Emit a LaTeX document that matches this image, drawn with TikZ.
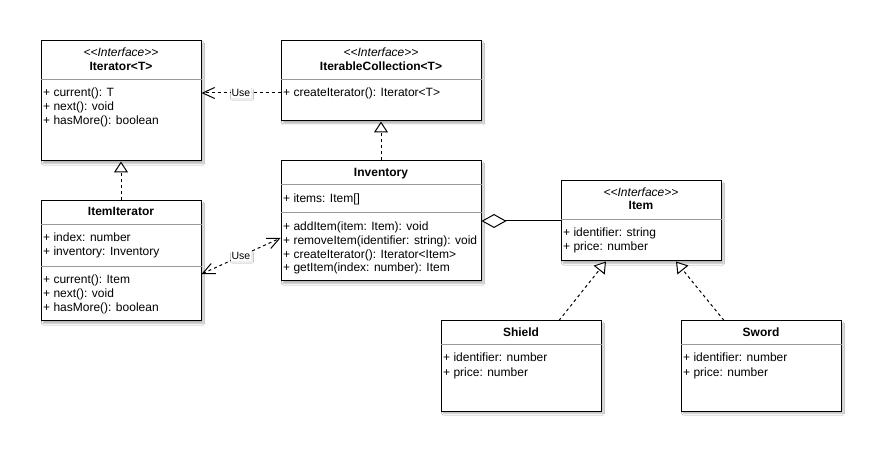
\documentclass[tikz,border=0pt]{standalone}
\usepackage{fontspec}
\setmainfont{Liberation Sans}
\usetikzlibrary{arrows.meta,shadows.blur}

% <<...>> without the guillemet ligature
\newcommand\umlstereo[1]{<\kern0pt<#1>\kern0pt>}

% member rows: #1 name prefix, #2 box, #3 first baseline below box top, #4 line step, #5 rows
\newcommand\umlrows[5]{%
  \foreach \txt [count=\k] in {#5} {%
    \node[row] (#1\k) at ([xshift=2.5pt, yshift={-(#3+#4*(\k-1))}]#2.north west) {\txt};
  }%
}
% compartment divider #2 points below the top of box #1
\newcommand\umlsep[2]{%
  \draw[divider] ([yshift=-#2pt]#1.north west) -- ([yshift=-#2pt]#1.north east);%
}

\tikzset{
  softshadow/.style={blur shadow={shadow xshift=2pt, shadow yshift=-2.5pt,
      shadow opacity=28, shadow blur radius=1.5pt, shadow blur steps=4}},
  classbox/.style={draw=black, line width=1pt, fill=white, anchor=north west,
    inner sep=0pt, softshadow},
  divider/.style={draw=black!40, line width=0.8pt},
  row/.style={anchor=base west, inner sep=0pt, font=\fontsize{12}{14}\selectfont},
  classname/.style={anchor=base, inner sep=0pt, font=\fontsize{12}{14}\selectfont\bfseries},
  stereo/.style={anchor=base, inner sep=0pt, font=\fontsize{12}{14}\selectfont\itshape},
  dep/.style={line width=1pt, dash pattern=on 3pt off 3pt},
  use/.style={dep, -{Straight Barb[length=12pt,width=11pt]}},
  usetwo/.style={dep, {Straight Barb[length=12pt,width=11pt]}-{Straight Barb[length=12pt,width=11pt]}},
  realize/.style={dep, -{Triangle[length=11pt,width=14pt,fill=white]}},
  agg/.style={line width=1pt, {Diamond[length=25pt,width=14pt,fill=white]}-},
  lbl/.style={fill=white, inner sep=1pt, font=\fontsize{10.5}{12}\selectfont,
    blur shadow={shadow xshift=1pt, shadow yshift=-1.5pt, shadow opacity=10,
      shadow blur radius=1pt, shadow blur steps=3}},
}

\begin{document}
\begin{tikzpicture}[x=1pt,y=-1pt]
\useasboundingbox[fill=white] (0,0) rectangle (887,457);

% ---- Iterator<T>
\node[classbox, minimum width=160pt, minimum height=120pt] (iter) at (40.5,40.5) {};
\node[stereo] (iter-st) at ([yshift=-16pt]iter.north) {\umlstereo{Interface}};
\node[classname] (iter-nm) at ([yshift=-30pt]iter.north) {Iterator<T>};
\umlsep{iter}{39}
\umlrows{iter-m}{iter}{56.5}{14}{{+ current(): T},{+ next(): void},{+ hasMore(): boolean}}

% ---- IterableCollection<T>
\node[classbox, minimum width=200pt, minimum height=80pt] (coll) at (280.5,40.5) {};
\node[stereo] (coll-st) at ([yshift=-16pt]coll.north) {\umlstereo{Interface}};
\node[classname] (coll-nm) at ([yshift=-30pt]coll.north) {IterableCollection<T>};
\umlsep{coll}{39}
\umlrows{coll-m}{coll}{56.5}{14}{{+ createIterator(): Iterator<T>}}

% ---- Inventory
\node[classbox, minimum width=200pt, minimum height=120pt] (inv) at (280.5,160.5) {};
\node[classname] (inv-nm) at ([yshift=-16.5pt]inv.north) {Inventory};
\umlsep{inv}{24}
\umlrows{inv-a}{inv}{42}{14}{{+ items: Item[]}}
\umlsep{inv}{52}
\umlrows{inv-m}{inv}{70}{13.8}{{+ addItem(item: Item): void},{+ removeItem(identifier: string): void},{+ createIterator(): Iterator<Item>},{+ getItem(index: number): Item}}

% ---- ItemIterator
\node[classbox, minimum width=160pt, minimum height=120pt] (itit) at (40.5,200.5) {};
\node[classname] (itit-nm) at ([yshift=-15.5pt]itit.north) {ItemIterator};
\umlsep{itit}{24}
\umlrows{itit-a}{itit}{41}{14}{{+ index: number},{+ inventory: Inventory}}
\umlsep{itit}{66}
\umlrows{itit-m}{itit}{83}{14}{{+ current(): Item},{+ next(): void},{+ hasMore(): boolean}}

% ---- Item
\node[classbox, minimum width=160pt, minimum height=80pt] (item) at (560.5,180.5) {};
\node[stereo] (item-st) at ([yshift=-16pt]item.north) {\umlstereo{Interface}};
\node[classname] (item-nm) at ([yshift=-29.5pt]item.north) {Item};
\umlsep{item}{39}
\umlrows{item-a}{item}{56}{14}{{+ identifier: string},{+ price: number}}

% ---- Shield
\node[classbox, minimum width=160pt, minimum height=90pt] (shield) at (440.5,320.5) {};
\node[classname] (shield-nm) at ([yshift=-16pt]shield.north) {Shield};
\umlsep{shield}{24}
\umlrows{shield-a}{shield}{41.5}{14}{{+ identifier: number},{+ price: number}}

% ---- Sword
\node[classbox, minimum width=160pt, minimum height=90pt] (sword) at (680.5,320.5) {};
\node[classname] (sword-nm) at ([yshift=-16pt]sword.north) {Sword};
\umlsep{sword}{24}
\umlrows{sword-a}{sword}{41.5}{14}{{+ identifier: number},{+ price: number}}

% ---- relations
\draw[use] ([yshift=-12pt]coll.west) coordinate (u1) -- (u1 -| iter.east)
  node[lbl, pos=.5] (use1) {Use};
\draw[usetwo] ([yshift=-13pt]itit.east) -- ([yshift=-17pt]inv.west)
  node[lbl, pos=.5] (use2) {Use};
\draw[realize] (itit.north) -- (iter.south);
\draw[realize] (inv.north) -- (coll.south);
\draw[agg] (inv.east) -- (item.west);
\draw[realize] ([xshift=38pt]shield.north) -- ([xshift=-35pt]item.south);
\draw[realize] ([xshift=-37pt]sword.north) -- ([xshift=35pt]item.south);
\end{tikzpicture}
\end{document}
